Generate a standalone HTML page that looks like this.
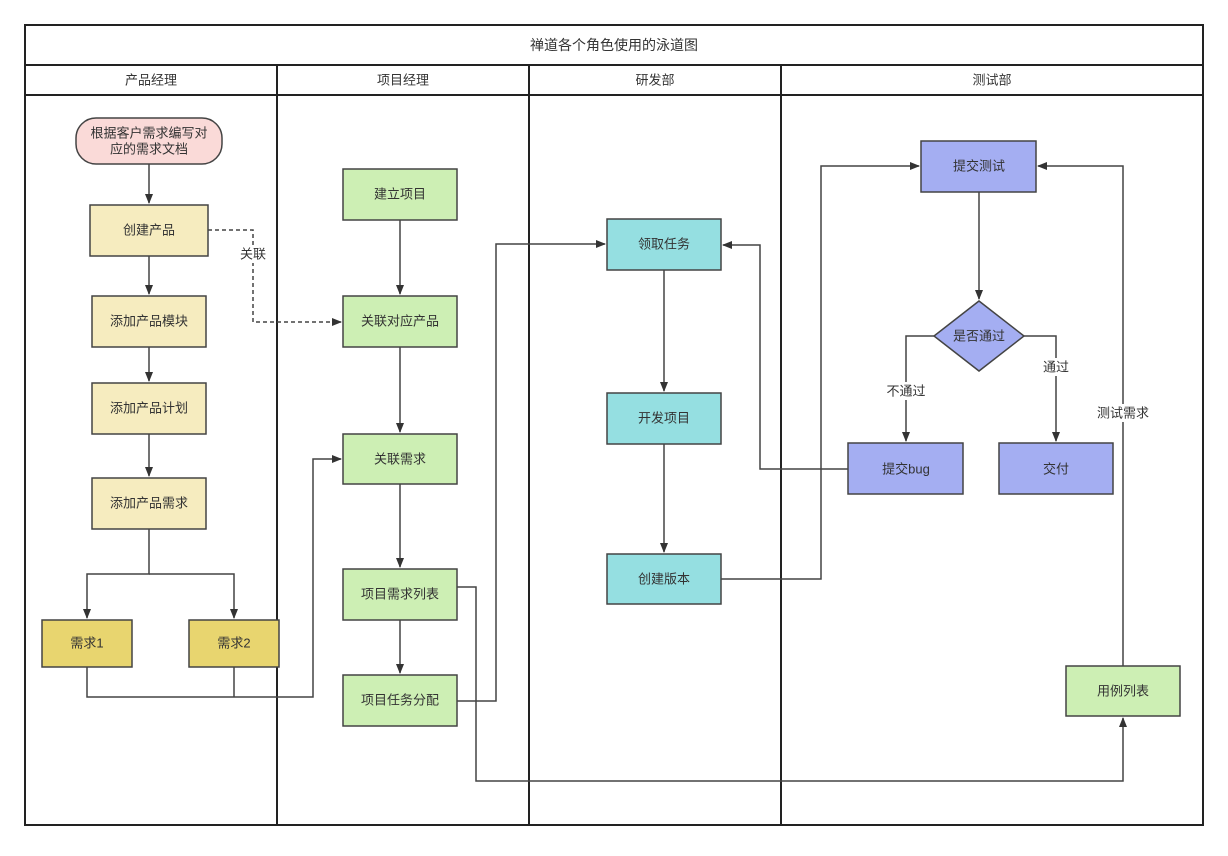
<!DOCTYPE html>
<html><head><meta charset="utf-8"><style>
body{margin:0;background:#fff}
svg text{font-family:"Liberation Sans","Noto Sans CJK SC",sans-serif;font-size:13px;fill:#333;text-anchor:middle;dominant-baseline:central}
</style></head><body>
<svg width="1228" height="851" viewBox="0 0 1228 851" xmlns="http://www.w3.org/2000/svg">
<defs><marker id="a" markerWidth="10" markerHeight="10" refX="9" refY="5" orient="auto" markerUnits="userSpaceOnUse"><path d="M0,1 L10,5 L0,9 Z" fill="#333"/></marker></defs>
<rect width="1228" height="851" fill="#fff"/>
<g stroke="#222" stroke-width="2" fill="none">
<rect x="25" y="25" width="1178" height="800"/>
<line x1="25" y1="65" x2="1203" y2="65"/>
<line x1="25" y1="95" x2="1203" y2="95"/>
<line x1="277" y1="65" x2="277" y2="825"/>
<line x1="529" y1="65" x2="529" y2="825"/>
<line x1="781" y1="65" x2="781" y2="825"/>
</g>
<text x="614" y="45" style="font-size:14px">禅道各个角色使用的泳道图</text>
<text x="151" y="80">产品经理</text><text x="403" y="80">项目经理</text><text x="655" y="80">研发部</text><text x="992" y="80">测试部</text>

<g stroke="#444" stroke-width="1.5" fill="none">
<path d="M149 164V203" marker-end="url(#a)"/>
<path d="M149 256V294" marker-end="url(#a)"/>
<path d="M149 347V381" marker-end="url(#a)"/>
<path d="M149 434V476" marker-end="url(#a)"/>
<path d="M149 529V574H87V618" marker-end="url(#a)"/>
<path d="M149 574H234V618" marker-end="url(#a)"/>
<path d="M87 667V697H313V459H341" marker-end="url(#a)"/>
<path d="M234 667V697"/>
<path d="M208 230H253V322H341" stroke-dasharray="4,3" marker-end="url(#a)"/>
<path d="M400 220V294" marker-end="url(#a)"/>
<path d="M400 347V432" marker-end="url(#a)"/>
<path d="M400 484V567" marker-end="url(#a)"/>
<path d="M400 620V673" marker-end="url(#a)"/>
<path d="M457 701H496V244H605" marker-end="url(#a)"/>
<path d="M457 587H476V781H1123V718" marker-end="url(#a)"/>
<path d="M1123 666V166H1038" marker-end="url(#a)"/>
<path d="M664 270V391" marker-end="url(#a)"/>
<path d="M664 444V552" marker-end="url(#a)"/>
<path d="M721 579H821V166H919" marker-end="url(#a)"/>
<path d="M979 192V299" marker-end="url(#a)"/>
<path d="M934 336H906V441" marker-end="url(#a)"/>
<path d="M1024 336H1056V441" marker-end="url(#a)"/>
<path d="M848 469H760V245H723" marker-end="url(#a)"/>
</g>
<g>
<rect x="238" y="245" width="30" height="18" fill="#fff"/><text x="253" y="254">关联</text>
<rect x="883" y="382" width="46" height="18" fill="#fff"/><text x="906" y="391">不通过</text>
<rect x="1040" y="358" width="32" height="18" fill="#fff"/><text x="1056" y="367">通过</text>
<rect x="1095" y="404" width="56" height="18" fill="#fff"/><text x="1123" y="413">测试需求</text>
</g>
<g stroke="#444" stroke-width="1.5">
<rect x="76" y="118" width="146" height="46" rx="20" fill="#fadad8"/>
<rect x="90" y="205" width="118" height="51" fill="#f6ecbf"/>
<rect x="92" y="296" width="114" height="51" fill="#f6ecbf"/>
<rect x="92" y="383" width="114" height="51" fill="#f6ecbf"/>
<rect x="92" y="478" width="114" height="51" fill="#f6ecbf"/>
<rect x="42" y="620" width="90" height="47" fill="#e8d56f"/>
<rect x="189" y="620" width="90" height="47" fill="#e8d56f"/>
<rect x="343" y="169" width="114" height="51" fill="#cdefb4"/>
<rect x="343" y="296" width="114" height="51" fill="#cdefb4"/>
<rect x="343" y="434" width="114" height="50" fill="#cdefb4"/>
<rect x="343" y="569" width="114" height="51" fill="#cdefb4"/>
<rect x="343" y="675" width="114" height="51" fill="#cdefb4"/>
<rect x="607" y="219" width="114" height="51" fill="#95dfe1"/>
<rect x="607" y="393" width="114" height="51" fill="#95dfe1"/>
<rect x="607" y="554" width="114" height="50" fill="#95dfe1"/>
<rect x="921" y="141" width="115" height="51" fill="#a4aef2"/>
<path d="M979 301L1024 336L979 371L934 336Z" fill="#a4aef2"/>
<rect x="848" y="443" width="115" height="51" fill="#a4aef2"/>
<rect x="999" y="443" width="114" height="51" fill="#a4aef2"/>
<rect x="1066" y="666" width="114" height="50" fill="#cdefb4"/>
</g>
<text x="149" y="133">根据客户需求编写对</text><text x="149" y="149">应的需求文档</text>
<text x="149" y="230">创建产品</text><text x="149" y="321">添加产品模块</text><text x="149" y="408">添加产品计划</text><text x="149" y="503">添加产品需求</text>
<text x="87" y="643">需求1</text><text x="234" y="643">需求2</text>
<text x="400" y="194">建立项目</text><text x="400" y="321">关联对应产品</text><text x="400" y="459">关联需求</text><text x="400" y="594">项目需求列表</text><text x="400" y="700">项目任务分配</text>
<text x="664" y="244">领取任务</text><text x="664" y="418">开发项目</text><text x="664" y="579">创建版本</text>
<text x="979" y="166">提交测试</text><text x="979" y="336">是否通过</text><text x="906" y="469">提交bug</text><text x="1056" y="469">交付</text><text x="1123" y="691">用例列表</text>
</svg>
</body></html>
